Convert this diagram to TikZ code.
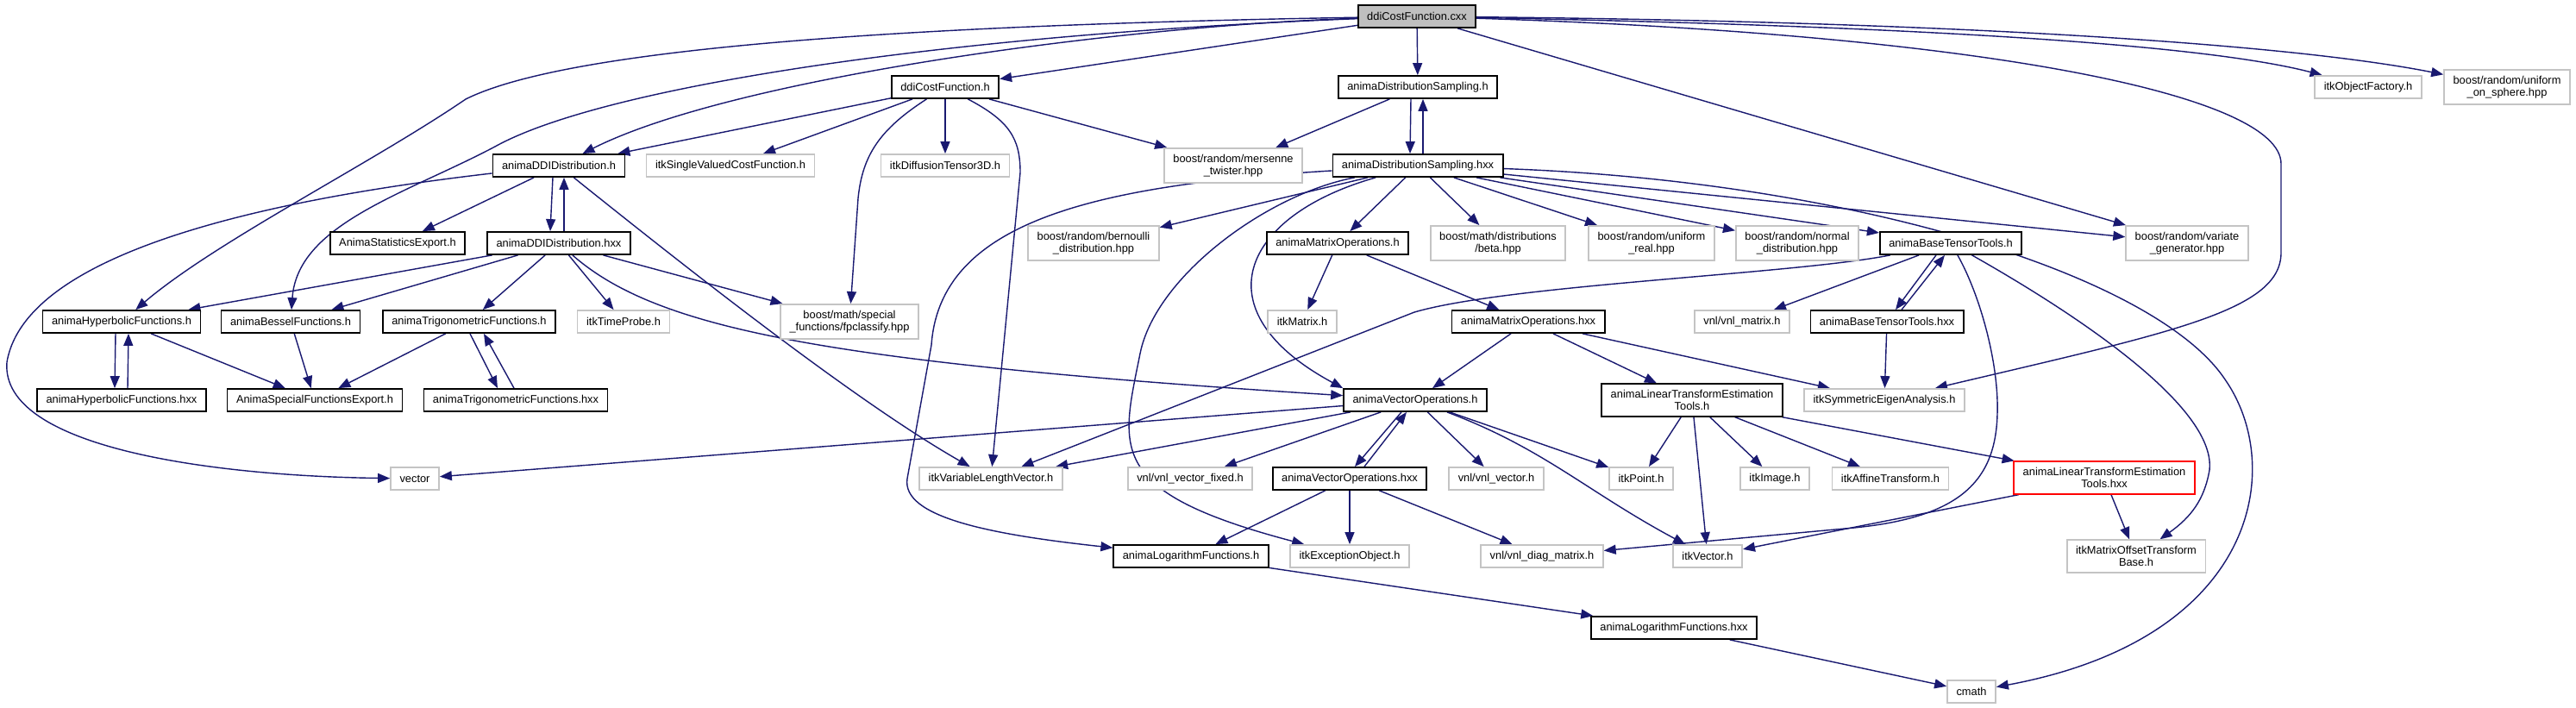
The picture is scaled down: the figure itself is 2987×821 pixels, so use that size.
\documentclass[tikz,border=0pt]{standalone}
\usepackage{fontspec}
\usepackage{tikz}
\usetikzlibrary{arrows.meta, backgrounds}
\newfontfamily\dotfamily{Liberation Sans}
\newcommand{\dotfont}{\dotfamily\fontsize{3.65pt}{4pt}\selectfont}
\definecolor{edgeblue}{RGB}{25,25,112}
\definecolor{rootgray}{RGB}{191,191,191}
\definecolor{extgray}{RGB}{196,196,196}

\begin{document}
\begin{tikzpicture}[
    x=0.01cm, y=-0.01cm,
    box/.style={draw, fill=white, line width=0.5pt, inner xsep=0.105cm,
                inner ysep=2pt, minimum height=0.26cm, align=center,
                font=\dotfont},
    docfile/.style={box, draw=black},
    extfile/.style={box, draw=extgray},
    rootfile/.style={box, draw=black, fill=rootgray},
    truncfile/.style={box, draw=red},
    arrow/.style={-{Triangle[length=0.14cm, width=0.11cm]}, color=edgeblue,
                  line width=0.4pt},
]
\useasboundingbox (0,0) rectangle (2987,821);

% ── Rank 0: the source file ────────────────────────────────────────────
\node[rootfile] (cxx) at (1643,19) {ddiCostFunction.cxx};

% ── Rank 1 ─────────────────────────────────────────────────────────────
\node[docfile] (costh)  at (1096,101) {ddiCostFunction.h};
\node[docfile] (dsh)    at (1644,101) {animaDistributionSampling.h};
\node[extfile] (objfac) at (2746,101) {itkObjectFactory.h};
\node[extfile] (sphere) at (2907,101) {boost/random/uniform\\\_on\_sphere.hpp};

% ── Rank 2 ─────────────────────────────────────────────────────────────
\node[docfile] (ddih)  at (648,192)  {animaDDIDistribution.h};
\node[extfile] (svcf)  at (847,192)  {itkSingleValuedCostFunction.h};
\node[extfile] (dt3d)  at (1096,192) {itkDiffusionTensor3D.h};
\node[extfile] (mt)    at (1430,192) {boost/random/mersenne\\\_twister.hpp};
\node[docfile] (dshxx) at (1644,192) {animaDistributionSampling.hxx};

% ── Rank 3 ─────────────────────────────────────────────────────────────
\node[docfile] (statexp) at (461,282)  {AnimaStatisticsExport.h};
\node[docfile] (ddihxx)  at (648,282)  {animaDDIDistribution.hxx};
\node[extfile] (bern)    at (1268,282) {boost/random/bernoulli\\\_distribution.hpp};
\node[docfile] (matoph)  at (1551,282) {animaMatrixOperations.h};
\node[extfile] (beta)    at (1737,282) {boost/math/distributions\\/beta.hpp};
\node[extfile] (ureal)   at (1915,282) {boost/random/uniform\\\_real.hpp};
\node[extfile] (normal)  at (2084,282) {boost/random/normal\\\_distribution.hpp};
\node[docfile] (btth)    at (2262,282) {animaBaseTensorTools.h};
\node[extfile] (vargen)  at (2536,282) {boost/random/variate\\\_generator.hpp};

% ── Rank 4 ─────────────────────────────────────────────────────────────
\node[docfile] (hyph)     at (141,373)  {animaHyperbolicFunctions.h};
\node[docfile] (besh)     at (337,373)  {animaBesselFunctions.h};
\node[docfile] (trigh)    at (544,373)  {animaTrigonometricFunctions.h};
\node[extfile] (tprobe)   at (723,373)  {itkTimeProbe.h};
\node[extfile] (fpcl)     at (985,373)  {boost/math/special\\\_functions/fpclassify.hpp};
\node[extfile] (itkmat)   at (1510,373) {itkMatrix.h};
\node[docfile] (matophxx) at (1772,373) {animaMatrixOperations.hxx};
\node[extfile] (vnlmat)   at (2020,373) {vnl/vnl\_matrix.h};
\node[docfile] (btthxx)   at (2188,373) {animaBaseTensorTools.hxx};

% ── Rank 5 ─────────────────────────────────────────────────────────────
\node[docfile] (hyphxx)  at (141,464)  {animaHyperbolicFunctions.hxx};
\node[docfile] (spexp)   at (365,464)  {AnimaSpecialFunctionsExport.h};
\node[docfile] (trighxx) at (598,464)  {animaTrigonometricFunctions.hxx};
\node[docfile] (vech)    at (1641,464) {animaVectorOperations.h};
\node[docfile] (ltet)    at (1962,464) {animaLinearTransformEstimation\\Tools.h};
\node[extfile] (eigen)   at (2185,464) {itkSymmetricEigenAnalysis.h};

% ── Rank 6 ─────────────────────────────────────────────────────────────
\node[extfile]   (vector)  at (481,555)  {vector};
\node[extfile]   (vlv)     at (1149,555) {itkVariableLengthVector.h};
\node[extfile]   (vfixed)  at (1380,555) {vnl/vnl\_vector\_fixed.h};
\node[docfile]   (vechxx)  at (1565,555) {animaVectorOperations.hxx};
\node[extfile]   (vnlvec)  at (1735,555) {vnl/vnl\_vector.h};
\node[extfile]   (point)   at (1903,555) {itkPoint.h};
\node[extfile]   (image)   at (2058,555) {itkImage.h};
\node[extfile]   (affine)  at (2192,555) {itkAffineTransform.h};
\node[truncfile] (ltethxx) at (2440,554) {animaLinearTransformEstimation\\Tools.hxx};

% ── Rank 7 ─────────────────────────────────────────────────────────────
\node[docfile] (logh)   at (1381,645) {animaLogarithmFunctions.h};
\node[extfile] (exc)    at (1565,645) {itkExceptionObject.h};
\node[extfile] (diag)   at (1788,645) {vnl/vnl\_diag\_matrix.h};
\node[extfile] (itkvec) at (1980,645) {itkVector.h};
\node[extfile] (motb)   at (2477,645) {itkMatrixOffsetTransform\\Base.h};

% ── Rank 8 and 9 ───────────────────────────────────────────────────────
\node[docfile] (loghxx) at (1941,728) {animaLogarithmFunctions.hxx};
\node[extfile] (cmath)  at (2286,802) {cmath};

% ── Include edges ──────────────────────────────────────────────────────
\begin{scope}[on background layer]
% from ddiCostFunction.cxx
\draw[arrow] (cxx) -- (costh);
\draw[arrow] (cxx) -- (dsh);
\draw[arrow] (cxx) .. controls (2200,30) and (2550,50) .. (objfac);
\draw[arrow] (cxx) .. controls (2250,25) and (2650,50) .. (sphere);
\draw[arrow] (cxx) -- (vargen);
\draw[arrow] (cxx) .. controls (2300,40) and (2645,110) .. (2645,190)
      -- (2645,293) .. controls (2645,360) and (2520,385) .. (eigen);
\draw[arrow] (cxx) .. controls (1300,30) and (850,90) .. (ddih);
\draw[arrow] (cxx) .. controls (1000,30) and (650,60) .. (540,115)
      .. controls (430,190) and (250,280) .. (hyph);
\draw[arrow] (cxx) .. controls (1100,40) and (700,100) .. (574,170)
      .. controls (470,225) and (345,260) .. (besh);

% from ddiCostFunction.h
\draw[arrow] (costh) -- (ddih);
\draw[arrow] (costh) -- (svcf);
\draw[arrow] (costh) -- (dt3d);
\draw[arrow] (costh) -- (mt);
\draw[arrow] (costh) .. controls (1020,150) and (1000,180) .. (995,230) -- (fpcl);
\draw[arrow] (costh) .. controls (1170,140) and (1183,160) .. (1183,200) -- (vlv);

% distribution sampling
\draw[arrow] (dsh) -- (mt);
\draw[arrow] ([xshift=-0.08cm]dsh.south) -- ([xshift=-0.09cm]dshxx.north);
\draw[arrow] ([xshift=0.06cm]dshxx.north) -- ([xshift=0.06cm]dsh.south);
\draw[arrow] (dshxx) -- (bern);
\draw[arrow] (dshxx) -- (matoph);
\draw[arrow] (dshxx) -- (beta);
\draw[arrow] (dshxx) -- (ureal);
\draw[arrow] (dshxx) -- (normal);
\draw[arrow] (dshxx) -- (btth);
\draw[arrow] (dshxx) -- (vargen);
\draw[arrow] (dshxx) .. controls (2150,210) and (2500,320) .. (2580,440)
      .. controls (2650,540) and (2620,740) .. (cmath);
\draw[arrow] (dshxx) .. controls (1260,215) and (1090,260) .. (1080,400)
      -- (1052,555) .. controls (1045,600) and (1150,620) .. (logh);
\draw[arrow] (dshxx) .. controls (1470,225) and (1340,320) .. (1322,410)
      .. controls (1300,520) and (1280,570) .. (exc);
\draw[arrow] (dshxx) .. controls (1440,250) and (1390,360) .. (vech.north west);

% DDI distribution
\draw[arrow] (ddih) -- (statexp);
\draw[arrow] ([xshift=-0.07cm]ddih.south) -- ([xshift=-0.10cm]ddihxx.north);
\draw[arrow] ([xshift=0.06cm]ddihxx.north) -- ([xshift=0.06cm]ddih.south);
\draw[arrow] (ddih) .. controls (320,230) and (30,290) .. (8,420)
      .. controls (0,520) and (250,552) .. (vector);
\draw[arrow] (ddih) .. controls (820,330) and (1000,470) .. (vlv);
\draw[arrow] (ddihxx) -- (hyph);
\draw[arrow] (ddihxx) -- (besh);
\draw[arrow] (ddihxx) -- (trigh);
\draw[arrow] (ddihxx) -- (tprobe);
\draw[arrow] (ddihxx) -- (fpcl);
\draw[arrow] (ddihxx) .. controls (760,380) and (950,420) .. (vech);

% special functions
\draw[arrow] ([xshift=-0.07cm]hyph.south) -- ([xshift=-0.08cm]hyphxx.north);
\draw[arrow] ([xshift=0.07cm]hyphxx.north) -- ([xshift=0.08cm]hyph.south);
\draw[arrow] (hyph) -- (spexp);
\draw[arrow] (besh) -- (spexp);
\draw[arrow] (trigh) -- (spexp);
\draw[arrow] ([xshift=0.01cm]trigh.south) -- ([xshift=-0.21cm]trighxx.north);
\draw[arrow] ([xshift=-0.02cm]trighxx.north) -- ([xshift=0.17cm]trigh.south);

% matrix operations
\draw[arrow] (matoph) -- (itkmat);
\draw[arrow] (matoph) -- (matophxx);
\draw[arrow] (matophxx) -- (vech);
\draw[arrow] (matophxx) -- (ltet);
\draw[arrow] (matophxx) -- (eigen);

% base tensor tools
\draw[arrow] (btth) .. controls (2080,318) and (1750,330) .. (1640,362) -- (vlv);
\draw[arrow] (btth) -- (vnlmat);
\draw[arrow] ([xshift=-0.17cm]btth.south) -- ([xshift=0.10cm]btthxx.north);
\draw[arrow] ([xshift=0.17cm]btthxx.north) -- ([xshift=-0.07cm]btth.south);
\draw[arrow] (btth) .. controls (2295,340) and (2318,420) .. (2316,480)
      .. controls (2314,560) and (2270,600) .. (2150,612) -- (diag);
\draw[arrow] (btth) .. controls (2400,360) and (2570,470) .. (2562,545)
      .. controls (2556,580) and (2540,600) .. (motb);
\draw[arrow] (btthxx) -- (eigen);

% vector operations
\draw[arrow] (vech) -- (vector);
\draw[arrow] (vech) -- (vlv);
\draw[arrow] (vech) -- (vfixed);
\draw[arrow] ([xshift=-0.16cm]vech.south) -- ([xshift=0.06cm]vechxx.north);
\draw[arrow] ([xshift=0.17cm]vechxx.north) -- ([xshift=-0.10cm]vech.south);
\draw[arrow] (vech) -- (vnlvec);
\draw[arrow] (vech) -- (point);
\draw[arrow] (vech) .. controls (1790,520) and (1840,570) .. (itkvec);
\draw[arrow] (vechxx) -- (logh);
\draw[arrow] (vechxx) -- (exc);
\draw[arrow] (vechxx) -- (diag);

% linear transform estimation
\draw[arrow] (ltet) -- (point);
\draw[arrow] (ltet) -- (itkvec);
\draw[arrow] (ltet) -- (image);
\draw[arrow] (ltet) -- (affine);
\draw[arrow] (ltet) -- (ltethxx);
\draw[arrow] (ltethxx) -- (itkvec);
\draw[arrow] (ltethxx) -- (motb);

% logarithm functions
\draw[arrow] (logh) -- (loghxx);
\draw[arrow] (loghxx) -- (cmath);
\end{scope}

\end{tikzpicture}
\end{document}
